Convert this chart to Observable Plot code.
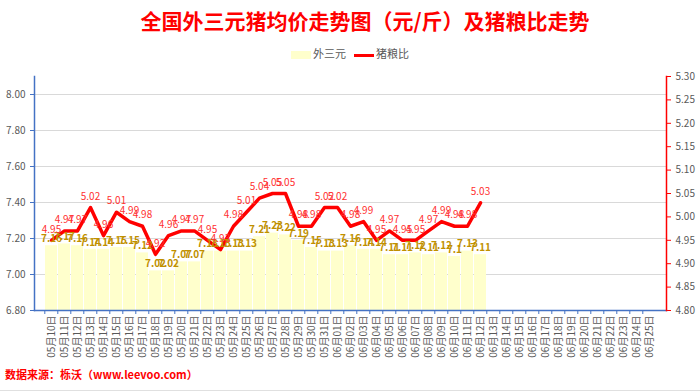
<!DOCTYPE html>
<html>
<head>
<meta charset="utf-8">
<script src="https://cdn.jsdelivr.net/npm/d3@7"></script>
<script src="https://cdn.jsdelivr.net/npm/@observablehq/plot@0.6"></script>
<style>
  html, body { margin: 0; padding: 0; background: #fff; }
  #wrap { position: relative; width: 700px; height: 391px; overflow: hidden; font-family: "Noto Sans CJK SC", "Noto Sans", sans-serif; border-bottom: 1px solid #e0e0e0; box-sizing: border-box; }
  #title { position: absolute; top: 5px; left: 0; width: 730px; text-align: center; color: #ff0000; font-weight: bold; font-size: 21px; line-height: 30px; }
  #legend { position: absolute; top: 44px; left: 0; width: 700px; text-align: center; font-size: 11px; color: #595959; line-height: 18px; }
  #legend span.item { display: inline-block; margin: 0 4px; }
  #legend i.sw { display: inline-block; width: 20px; height: 8px; background: #ffffcc; vertical-align: middle; margin-right: 2px; }
  #legend i.ln { display: inline-block; width: 20px; height: 3px; background: #ff0000; vertical-align: middle; margin-right: 2px; }
  #source { position: absolute; top: 366px; left: 5px; color: #ff0000; font-weight: bold; font-size: 11px; }
  #chart { position: absolute; top: 0; left: 0; }
</style>
</head>
<body>
<div id="wrap">
  <div id="chart"></div>
  <div id="title">全国外三元猪均价走势图（元/斤）及猪粮比走势</div>
  <div id="legend"><span class="item"><i class="sw"></i>外三元</span><span class="item"><i class="ln"></i>猪粮比</span></div>
  <div id="source">数据来源：栎沃（www.leevoo.com）</div>
</div>
<script>
const categories = [
  "05月10日","05月11日","05月12日","05月13日","05月14日","05月15日","05月16日","05月17日","05月18日","05月19日",
  "05月20日","05月21日","05月22日","05月23日","05月24日","05月25日","05月26日","05月27日","05月28日","05月29日",
  "05月30日","05月31日","06月01日","06月02日","06月03日","06月04日","06月05日","06月06日","06月07日","06月08日",
  "06月09日","06月10日","06月11日","06月12日","06月13日","06月14日","06月15日","06月16日","06月17日","06月18日",
  "06月19日","06月20日","06月21日","06月22日","06月23日","06月24日","06月25日"
];
const porkPrice = [
  7.16, 7.17, 7.16, 7.14, 7.14, 7.15, 7.15, 7.12, 7.02, 7.02,
  7.07, 7.07, 7.13, 7.13, 7.13, 7.13, 7.21, 7.23, 7.22, 7.19,
  7.15, 7.13, 7.13, 7.16, 7.14, 7.14, 7.11, 7.11, 7.12, 7.11,
  7.12, 7.1, 7.13, 7.11
];
const pigGrainRatio = [
  4.95, 4.97, 4.97, 5.02, 4.96, 5.01, 4.99, 4.98, 4.92, 4.96,
  4.97, 4.97, 4.95, 4.93, 4.98, 5.01, 5.04, 5.05, 5.05, 4.98,
  4.98, 5.02, 5.02, 4.98, 4.99, 4.95, 4.97, 4.95, 4.95, 4.97,
  4.99, 4.98, 4.98, 5.03
];
const leftTicks = [6.8, 7.0, 7.2, 7.4, 7.6, 7.8, 8.0];
const gridTicks = [7.0, 7.2, 7.4, 7.6, 7.8, 8.0];
const rightTicks = [4.80, 4.85, 4.90, 4.95, 5.00, 5.05, 5.10, 5.15, 5.20, 5.25, 5.30];
const leftDomain = [6.8, 8.1];
const rightDomain = [4.8, 5.3];

const data = porkPrice.map((v, i) => ({date: categories[i], pork: v, ratio: pigGrainRatio[i]}));
const k = (leftDomain[1] - leftDomain[0]) / (rightDomain[1] - rightDomain[0]);
const toLeft = r => leftDomain[0] + (r - rightDomain[0]) * k;
const toRight = v => rightDomain[0] + (v - leftDomain[0]) / k;

const chart = Plot.plot({
  width: 700,
  height: 391,
  marginTop: 76,
  marginBottom: 81,
  marginLeft: 34,
  marginRight: 34,
  style: {fontFamily: "'Noto Sans CJK SC', 'Noto Sans', sans-serif", fontSize: "10px", background: "transparent", overflow: "visible"},
  x: {type: "band", domain: categories, padding: 0.1, label: null},
  y: {domain: leftDomain, label: null},
  marks: [
    Plot.gridY(gridTicks, {stroke: "#d9d9d9", strokeOpacity: 1}),
    Plot.barY(data, {x: "date", y1: leftDomain[0], y2: "pork", fill: "#ffffcc"}),
    Plot.lineY(data, {x: "date", y: d => toLeft(d.ratio), stroke: "#ff0000", strokeWidth: 3.5}),
    Plot.text(data, {x: "date", y: "pork", text: d => String(d.pork), dy: -7, fill: "#c09000", fontWeight: "bold", fontSize: 10}),
    Plot.text(data, {x: "date", y: d => toLeft(d.ratio), text: d => d.ratio.toFixed(2), dy: -11, fill: "#ff3030", fontSize: 10}),
    Plot.axisY(leftTicks, {anchor: "left", tickSize: 4, stroke: "#4472c4", fill: "#595959", tickFormat: d => d.toFixed(2), fontSize: 10, label: null}),
    Plot.axisY(rightTicks.map(toLeft), {anchor: "right", tickSize: 4, stroke: "#ff0000", fill: "#595959", tickFormat: d => toRight(d).toFixed(2), fontSize: 10, label: null}),
    Plot.axisX({tickSize: 0, tickPadding: 5, tickRotate: -90, fill: "#595959", fontSize: 10, label: null}),
    Plot.axisX({tickSize: 4, tickFormat: () => "", dx: -6.7, stroke: "#4472c4", label: null}),
    Plot.frame({anchor: "left", stroke: "#4472c4", strokeWidth: 1.5}),
    Plot.frame({anchor: "bottom", stroke: "#4472c4", strokeWidth: 1.5}),
    Plot.frame({anchor: "right", stroke: "#ff0000", strokeWidth: 1.5})
  ]
});
document.getElementById("chart").appendChild(chart);
</script>
</body>
</html>
